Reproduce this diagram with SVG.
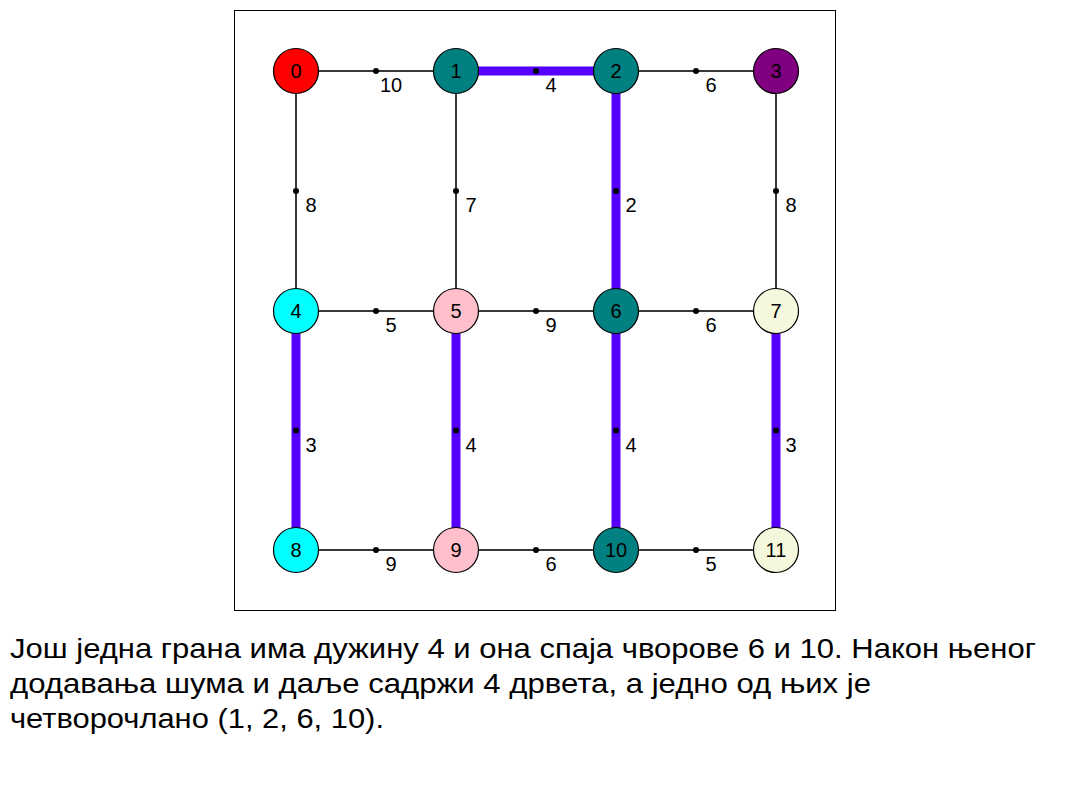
<svg xmlns="http://www.w3.org/2000/svg" width="1070" height="785" viewBox="0 0 1070 785">
<style>
.thin{stroke:#383838;stroke-width:2;fill:none}
.thick{stroke:#5500ff;stroke-width:9;fill:none}
.dot{fill:#000}
.node circle{stroke:#000;stroke-width:1.2}
.nt{font-family:"Liberation Sans",Arial,sans-serif;font-size:20px;text-anchor:middle;fill:#000}
.el{font-family:"Liberation Sans",Arial,sans-serif;font-size:20px;text-anchor:middle;fill:#000}
.cap{font-family:"Liberation Sans",Arial,sans-serif;font-size:28px;fill:#000}
</style>
<rect x="0" y="0" width="1070" height="785" fill="#fff"/>
<rect x="234.5" y="10.5" width="601" height="600" fill="none" stroke="#000" stroke-width="1"/>
<g id="connectors">
<line class="thin" x1="296" y1="71" x2="456" y2="71"/>
<line class="thick" x1="456" y1="71" x2="616" y2="71"/>
<line class="thin" x1="616" y1="71" x2="776" y2="71"/>
<line class="thin" x1="296" y1="311" x2="456" y2="311"/>
<line class="thin" x1="456" y1="311" x2="616" y2="311"/>
<line class="thin" x1="616" y1="311" x2="776" y2="311"/>
<line class="thin" x1="296" y1="550" x2="456" y2="550"/>
<line class="thin" x1="456" y1="550" x2="616" y2="550"/>
<line class="thin" x1="616" y1="550" x2="776" y2="550"/>
<line class="thin" x1="296" y1="71" x2="296" y2="311"/>
<line class="thin" x1="456" y1="71" x2="456" y2="311"/>
<line class="thick" x1="616" y1="71" x2="616" y2="311"/>
<line class="thin" x1="776" y1="71" x2="776" y2="311"/>
<line class="thick" x1="296" y1="311" x2="296" y2="550"/>
<line class="thick" x1="456" y1="311" x2="456" y2="550"/>
<line class="thick" x1="616" y1="311" x2="616" y2="550"/>
<line class="thick" x1="776" y1="311" x2="776" y2="550"/>
<g class="dot">
<circle cx="376" cy="71" r="3"/><circle cx="536" cy="71" r="3"/><circle cx="696" cy="71" r="3"/>
<circle cx="376" cy="311" r="3"/><circle cx="536" cy="311" r="3"/><circle cx="696" cy="311" r="3"/>
<circle cx="376" cy="550" r="3"/><circle cx="536" cy="550" r="3"/><circle cx="696" cy="550" r="3"/>
<circle cx="296" cy="191" r="3"/><circle cx="456" cy="191" r="3"/><circle cx="616" cy="191" r="3"/><circle cx="776" cy="191" r="3"/>
<circle cx="296" cy="430.5" r="3"/><circle cx="456" cy="430.5" r="3"/><circle cx="616" cy="430.5" r="3"/><circle cx="776" cy="430.5" r="3"/>
</g>
<g>
<text class="el" x="391" y="92">10</text>
<text class="el" x="551" y="92">4</text>
<text class="el" x="711" y="92">6</text>
<text class="el" x="391" y="332">5</text>
<text class="el" x="551" y="332">9</text>
<text class="el" x="711" y="332">6</text>
<text class="el" x="391" y="571">9</text>
<text class="el" x="551" y="571">6</text>
<text class="el" x="711" y="571">5</text>
<text class="el" x="311" y="212">8</text>
<text class="el" x="471" y="212">7</text>
<text class="el" x="631" y="212">2</text>
<text class="el" x="791" y="212">8</text>
<text class="el" x="311" y="451.5">3</text>
<text class="el" x="471" y="451.5">4</text>
<text class="el" x="631" y="451.5">4</text>
<text class="el" x="791" y="451.5">3</text>
</g>
</g>
<g id="n0" class="node"><circle cx="296" cy="71" r="22.5" fill="#ff0000"/><text class="nt" x="296" y="78">0</text></g>
<g id="n1" class="node"><circle cx="456" cy="71" r="22.5" fill="#008080"/><text class="nt" x="456" y="78">1</text></g>
<g id="n2" class="node"><circle cx="616" cy="71" r="22.5" fill="#008080"/><text class="nt" x="616" y="78">2</text></g>
<g id="n3" class="node"><circle cx="776" cy="71" r="22.5" fill="#800080"/><text class="nt" x="776" y="78">3</text></g>
<g id="n4" class="node"><circle cx="296" cy="311" r="22.5" fill="#00ffff"/><text class="nt" x="296" y="318">4</text></g>
<g id="n5" class="node"><circle cx="456" cy="311" r="22.5" fill="#ffc0cb"/><text class="nt" x="456" y="318">5</text></g>
<g id="n6" class="node"><circle cx="616" cy="311" r="22.5" fill="#008080"/><text class="nt" x="616" y="318">6</text></g>
<g id="n7" class="node"><circle cx="776" cy="311" r="22.5" fill="#f5f8dc"/><text class="nt" x="776" y="318">7</text></g>
<g id="n8" class="node"><circle cx="296" cy="550" r="22.5" fill="#00ffff"/><text class="nt" x="296" y="557">8</text></g>
<g id="n9" class="node"><circle cx="456" cy="550" r="22.5" fill="#ffc0cb"/><text class="nt" x="456" y="557">9</text></g>
<g id="n10" class="node"><circle cx="616" cy="550" r="22.5" fill="#008080"/><text class="nt" x="616" y="557">10</text></g>
<g id="n11" class="node"><circle cx="776" cy="550" r="22.5" fill="#f5f8dc"/><text class="nt" x="776" y="557">11</text></g>
<g id="caption">
<text class="cap" x="10" y="658" textLength="1026" lengthAdjust="spacingAndGlyphs">Још једна грана има дужину 4 и она спаја чворове 6 и 10. Након њеног</text>
<text class="cap" x="10" y="693" textLength="861" lengthAdjust="spacingAndGlyphs">додавања шума и даље садржи 4 дрвета, а једно од њих је</text>
<text class="cap" x="10" y="728" textLength="374" lengthAdjust="spacingAndGlyphs">четворочлано (1, 2, 6, 10).</text>
</g>
</svg>
